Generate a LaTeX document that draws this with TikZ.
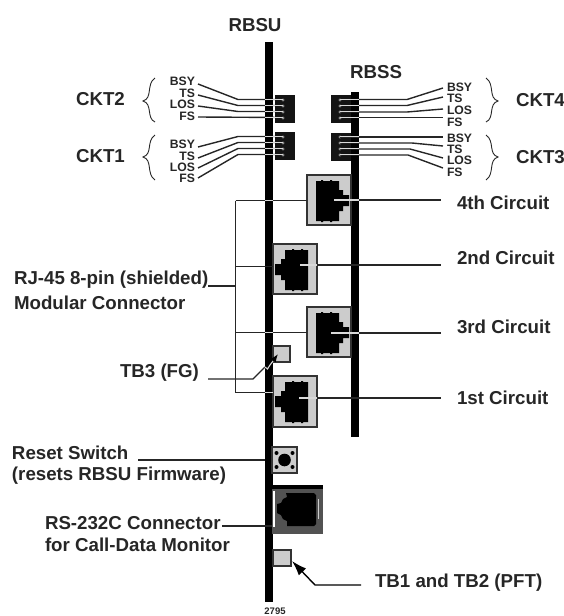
\documentclass[tikz,border=0pt]{standalone}
\usepackage{fontspec}
\setmainfont{Liberation Sans}
\usetikzlibrary{arrows.meta,calc}
\definecolor{jackgrey}{HTML}{CCCCCC}
\definecolor{rimgrey}{HTML}{333333}
\tikzset{
  x=1pt,y=-1pt,
  every node/.style={inner sep=0pt,outer sep=0pt},
  lbl/.style={font=\bfseries\fontsize{18.7}{20}\selectfont,text=black!85},
  sig/.style={font=\bfseries\fontsize{12.2}{13}\selectfont,text=black!85},
  bar/.style={fill=black,draw=none},
  wire/.style={draw=black!85,line width=1.4pt},
  xwire/.style={draw=white!85!black,line width=1.1pt},
  brace/.style={draw=black!85,line width=0.9pt},
  jackbox/.style={draw=rimgrey,line width=1.2pt,fill=jackgrey,minimum width=44pt,minimum height=50pt,anchor=north west},
  block/.style={fill=black!92,minimum width=20pt,minimum height=28pt,anchor=north west},
  small/.style={draw=rimgrey,line width=1.3pt,fill=jackgrey,minimum width=17pt,minimum height=16pt,anchor=north west},
}
\newcommand{\jackR}[2]{%
  \begin{scope}[shift={(#1,#2)}]
    \fill[black] (9,6)--(14,6)--(14,5)--(16,5)--(16,6)--(23,6)--(23,5)--(25,5)--(25,6)--(32,6)--(32,15)--(36,15)--(36,20)--(42,20)--(42,31)--(36,31)--(36,36)--(32,36)--(32,46)--(25,46)--(25,47)--(23,47)--(23,46)--(16,46)--(16,47)--(14,47)--(14,46)--(9,46)--cycle;
  \end{scope}}
\newcommand{\jackL}[2]{%
  \begin{scope}[shift={(#1,#2)}]
    \fill[black] (35,6)--(30,6)--(30,5)--(28,5)--(28,6)--(21,6)--(21,5)--(19,5)--(19,6)--(12,6)--(12,15)--(8,15)--(8,20)--(2,20)--(2,31)--(8,31)--(8,36)--(12,36)--(12,46)--(19,46)--(19,47)--(21,47)--(21,46)--(28,46)--(28,47)--(30,47)--(30,46)--(35,46)--cycle;
  \end{scope}}
\newcommand{\pins}[1]{%
  \foreach \yy in {100,106,112,118}{\fill[black!45] (#1,\yy) circle (1.7);}
  \foreach \yy in {137,143,149,155}{\fill[black!45] (#1,\yy) circle (1.7);}}
\begin{document}
\begin{tikzpicture}
\useasboundingbox (0,0) rectangle (564,616);
% bars
\fill[bar] (265,42) rectangle (273,602);
\fill[bar] (351,92) rectangle (359,437);
% signal blocks
\node[block] (bL2) at (275,95) {};
\node[block] (bL1) at (275,132) {};
\node[block] (bR4) at (331,95) {};
\node[block] (bR3) at (331,133) {};
\pins{283}\pins{340}
% titles
\node[lbl] (rbsu) at (255,25) {RBSU};
\node[lbl] (rbss) at (376,72) {RBSS};
\node[lbl,anchor=west] (ckt2) at (76,99) {CKT2};
\node[lbl,anchor=west] (ckt1) at (76,156) {CKT1};
\node[lbl,anchor=west] (ckt4) at (516,100) {CKT4};
\node[lbl,anchor=west] (ckt3) at (516,157) {CKT3};
% signal labels, left
\node[sig,anchor=east] (l2a) at (195,81) {BSY};
\node[sig,anchor=east] (l2b) at (195,93) {TS};
\node[sig,anchor=east] (l2c) at (195,104) {LOS};
\node[sig,anchor=east] (l2d) at (195,116) {FS};
\node[sig,anchor=east] (l1a) at (195,144) {BSY};
\node[sig,anchor=east] (l1b) at (195,156) {TS};
\node[sig,anchor=east] (l1c) at (195,167) {LOS};
\node[sig,anchor=east] (l1d) at (195,178) {FS};
% signal labels, right
\node[sig,anchor=west] (r4a) at (447,87.5) {BSY};
\node[sig,anchor=west] (r4b) at (447,98.5) {TS};
\node[sig,anchor=west] (r4c) at (447,110) {LOS};
\node[sig,anchor=west] (r4d) at (447,122) {FS};
\node[sig,anchor=west] (r3a) at (447,138) {BSY};
\node[sig,anchor=west] (r3b) at (447,149) {TS};
\node[sig,anchor=west] (r3c) at (447,160) {LOS};
\node[sig,anchor=west] (r3d) at (447,172) {FS};
% signal wires
\draw[wire] (198,84)--(238,99.5)--(283,99.5);
\draw[wire] (198,95)--(238,105.5)--(283,105.5);
\draw[wire] (198,106)--(238,111.5)--(283,111.5);
\draw[wire] (198,117)--(283,117.5);
\draw[wire] (198,147)--(238,136.5)--(283,136.5);
\draw[wire] (198,158)--(238,142.5)--(283,142.5);
\draw[wire] (198,168)--(238,148.5)--(283,148.5);
\draw[wire] (198,178)--(238,154.5)--(283,154.5);
\draw[wire] (340,99.5)--(407,99.5)--(443,88);
\draw[wire] (340,105.5)--(407,105.5)--(443,97);
\draw[wire] (340,112)--(407,112)--(443,109);
\draw[wire] (340,117.5)--(443,117.5);
\draw[wire] (340,137)--(443,137);
\draw[wire] (340,143)--(412,143)--(443,146);
\draw[wire] (340,149)--(410,149)--(443,158);
\draw[wire] (340,155)--(408,155)--(443,168);
\foreach \yy in {99.5,105.5,111.5,117.5,136.5,142.5,148.5,154.5}{
  \draw[xwire] (265,\yy)--(283,\yy);
  \draw[xwire] (340,\yy)--(359,\yy);}
% braces
\draw[brace] (155,78) .. controls (146,84) and (153,98) .. (143,101) .. controls (153,104) and (146,118) .. (155,122);
\draw[brace] (155,135) .. controls (146,141) and (153,154) .. (143,157) .. controls (153,160) and (146,174) .. (155,180);
\draw[brace] (486,78) .. controls (495,84) and (488,98) .. (498,101) .. controls (488,104) and (495,118) .. (486,122);
\draw[brace] (486,135) .. controls (495,141) and (488,154) .. (498,157) .. controls (488,160) and (495,174) .. (486,180);
% modular jacks
\node[jackbox] (j4) at (307,175) {};
\node[jackbox] (j2) at (273,244) {};
\node[jackbox] (j3) at (307,307) {};
\node[jackbox,minimum height=51pt] (j1) at (273,376) {};
\jackR{307}{175}\jackL{273}{244}\jackR{307}{307}\jackL{273}{376}
% circuit labels
\node[lbl,anchor=west] (c4) at (457,203) {4th Circuit};
\node[lbl,anchor=west] (c2) at (457,258) {2nd Circuit};
\node[lbl,anchor=west] (c3) at (457,327) {3rd Circuit};
\node[lbl,anchor=west] (c1) at (457,398) {1st Circuit};
\coordinate (e4) at (334,200);
\coordinate (e2) at (300,265);
\coordinate (e3) at (331,333);
\coordinate (e1) at (299,398);
\draw[wire] (e4)--(441,200);
\draw[wire] (e2)--(441,265);
\draw[wire] (e3)--(441,333);
\draw[wire] (e1)--(441,398);
\draw[xwire] (e4)--(359,200);\draw[xwire] (e2)--(317,265);\draw[xwire] (e3)--(359,333);\draw[xwire] (e1)--(317,398);
% RJ-45 label and bracket
\node[lbl,anchor=west] (rj1) at (14,280) {RJ-45 8-pin (shielded)};
\node[lbl,anchor=west] (rj2) at (14,303) {Modular Connector};
\coordinate (bt) at (235.5,200.5);
\coordinate (bb) at (235.5,392.5);
\coordinate (bs) at (235.5,286);
\draw[wire] (208,286)--(bs);
\draw[wire] (bt)--(bb);
\draw[wire] (bt)--(j4.west |- bt);
\draw[wire] (235.5,266.7)--(j2.west |- 0,266.7);
\draw[wire] (235.5,332.7)--(j3.west |- 0,332.7);
\draw[wire] (bb)--(j1.west |- bb);
\draw[xwire] (265,200.5)--(273,200.5);\draw[xwire] (265,332.7)--(273,332.7);\draw[xwire] (265,392.5)--(273,392.5);
% TB3
\node[small] (tb3) at (273,346) {};
\node[lbl,anchor=west] (tb3l) at (120,373) {TB3 (FG)};
\draw[wire] (208,379)--(253,379)--(265,367);
\draw[xwire] (265,367)--(267.5,369)--(270,365)--(273,361);
\draw[draw=black,line width=1.2pt,-{Latex[length=8pt,width=6pt]}] (273,361)--(278,354);
% reset switch
\node[lbl,anchor=west] (rs1) at (12,453) {Reset Switch};
\node[lbl,anchor=west] (rs2) at (12,476) {(resets RBSU Firmware)};
\node[draw=rimgrey,line width=1.2pt,fill=jackgrey,minimum width=25pt,minimum height=26pt,anchor=north west] (sw) at (272,447) {};
\fill[black] (sw.center) circle (6.3);
\foreach \dx/\dy in {-8/-7,8/-7,-8/7,8/7}{\fill[black] ($(sw.center)+(\dx,\dy)$) circle (2);}
\draw[wire] (138,460)--(265,460);
% RS-232
\node[lbl,anchor=west] (rs232a) at (45,523) {RS-232C Connector};
\node[lbl,anchor=west] (rs232b) at (45,545) {for Call-Data Monitor};
\node[fill=black!68,minimum width=51pt,minimum height=49pt,anchor=north west] (rs) at (272,485) {};
\fill[black] (272,485) rectangle (323,489);
\fill[white] (273,491) rectangle (275,527);
\fill[jackgrey] (317.5,499) rectangle (319,519);
\fill[black] (286,493)--(314,493)--(316,495)--(316,524)--(314,526)--(287,526)--(287,521)--(283,519)--(281,515)--(277,513)--(277,504)--(281,503)--(283,499)--(287,497)--cycle;
\draw[wire] (222,526)--(272,526);
% TB1/2
\node[small,minimum width=18pt] (tb1) at (273,550) {};
\node[lbl,anchor=west] (tb1l) at (375,583) {TB1 and TB2 (PFT)};
\draw[draw=black,line width=1.4pt,-{Latex[length=15pt,width=10pt]}] (361,585)--(315,585)--(292,561);
\node[font=\bfseries\fontsize{9.5}{10}\selectfont,text=black!85] (num) at (275,611.5) {2795};
\end{tikzpicture}
\end{document}
